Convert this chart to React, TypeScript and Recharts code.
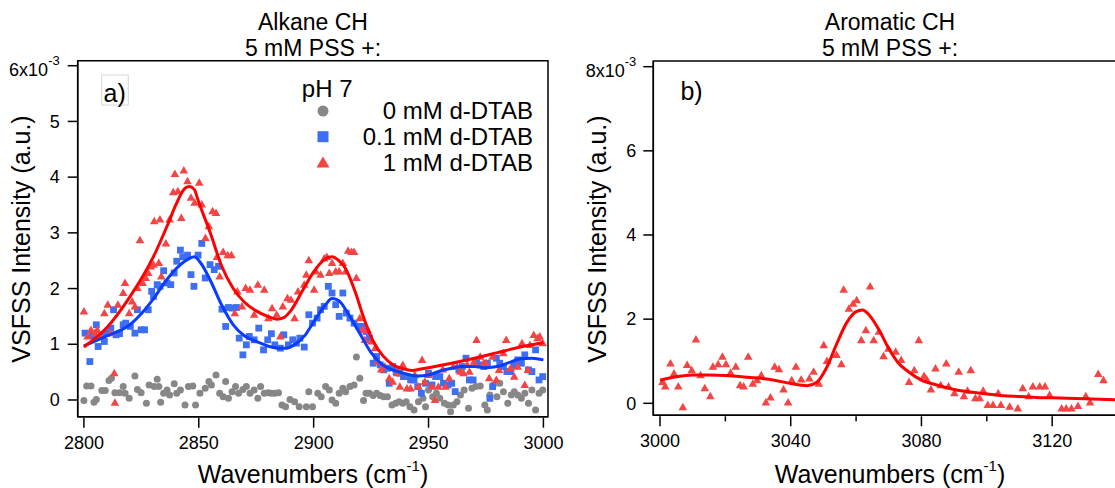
import React from 'react';
import { ComposedChart, Scatter, Line, XAxis, YAxis, ReferenceArea } from 'recharts';

const FONT = '"Liberation Sans", Arial, Helvetica, sans-serif';

// ---------- Panel a) Alkane CH (intensity in units of 1e-3) ----------
const dtab0: [number, number][] = [
  [2800,-0.01],[2801.2,0.25],[2803.1,0.25],[2804.4,-0.04],[2805.4,0.01],[2807.8,0.17],[2809.3,0.17],[2810.9,0.35],[2812,0.39],[2813.5,0.13],
  [2815.5,0.13],[2817.1,0.24],[2817.9,0.12],[2819.7,0.03],[2822.2,0.43],[2823.3,0.19],[2824.9,0.13],[2827.2,-0.06],[2828.4,0.27],[2830.6,0.24],
  [2831.9,0.37],[2832.6,0.24],[2833.4,-0.04],[2834.7,0.12],[2836.2,0.18],[2837.3,0.09],[2839.3,0.29],[2840.4,0.12],[2842,0.18],[2844,-0.09],
  [2845.5,0.24],[2847.4,0.25],[2848.6,-0.09],[2850.5,0.12],[2852.8,0.21],[2854.4,0.33],[2855.5,0.27],[2857.5,0.45],[2859.1,0.12],[2860.6,0.06],
  [2861.7,0.33],[2862.9,0.03],[2864.5,0.15],[2866,0.24],[2867.3,0.12],[2869.2,0.19],[2870.7,0.24],[2872.3,0.12],[2874.1,0.18],[2875.7,0.03],
  [2876.9,0.24],[2878.5,0.12],[2880.3,0.13],[2881.6,0.12],[2883.1,0.12],[2884.7,0.13],[2886.2,-0.09],[2887.8,-0.12],[2889.7,0.01],[2891.7,-0.03],
  [2893.7,-0.12],[2896.8,-0.12],[2897.9,0.15],[2899.5,-0.12],[2901.8,0.12],[2903.3,0.06],[2905.2,0.24],[2906.8,0.18],[2908,0],[2909.6,-0.06],
  [2911.1,0.12],[2912.7,0.21],[2913.9,0.15],[2915.8,0.24],[2917.6,0.27],[2918.6,0.77],[2920.1,0.39],[2921.7,-0.01],[2922.8,0.12],[2924.3,0.12],
  [2925.9,0.08],[2927.4,0.12],[2929,0.08],[2930.5,0.06],[2932.1,0.06],[2934.1,-0.09],[2935.7,-0.06],[2937.2,-0.03],[2938.8,-0.06],[2940.3,-0.03],
  [2941.9,-0.12],[2943.7,-0.18],[2945.6,-0.03],[2947.6,0.03],[2948.7,-0.12],[2950,0.18],[2951.8,0.06],[2953.4,0.12],[2954.9,0.03],[2956.9,-0.06],
  [2958.5,-0.09],[2959.6,-0.21],[2960.8,-0.09],[2962.4,-0.03],[2963.9,0.09],[2965.5,0.18],[2967.4,-0.15],[2968.9,0.21],[2970.5,0.24],[2972.5,0.25],
  [2974.5,-0.09],[2975.6,-0.18],[2976.7,0.09],[2978.2,0.27],[2979.8,0.06],[2981,0.3],[2982.6,0.15],[2984.5,-0.06],[2986,0.09],[2987.3,0.15],
  [2988.8,0.09],[2990.4,0.03],[2991.9,0.12],[2993.5,-0.06],[2995,0.18],[2996.6,-0.18],[2998.1,0.12],[2999.7,0.18],
];

const dtab01: [number, number][] = [
  [2800.5,1.2],[2802.6,0.69],[2803.6,1.15],[2805.4,1.35],[2806.2,0.96],[2807.8,1.14],[2808.9,1.05],[2810.1,1.2],[2811.7,1.29],[2812.9,1.62],
  [2814,1.17],[2815.5,1.19],[2817.1,1.35],[2818.2,1.38],[2820.2,1.32],[2822.2,1.2],[2823.3,1.62],[2824.9,1.26],[2826.4,1.26],[2828,1.62],
  [2829.5,1.95],[2830.3,1.86],[2831.9,2.07],[2833.1,2.04],[2834.7,2.32],[2836.2,2.1],[2837.8,2.07],[2839.3,2.28],[2840.4,2.49],[2842,2.69],
  [2843,2.57],[2845.1,2.6],[2846.6,2.25],[2847.9,2.04],[2849.7,2.6],[2851.3,2.81],[2852.8,2.19],[2854.9,2.43],[2856.7,2.34],[2858.6,2.4],
  [2860.1,1.63],[2861.7,1.32],[2862.9,1.66],[2864.5,1.65],[2866.4,1.66],[2867.6,1.11],[2869.2,0.81],[2870.7,0.99],[2872,1.14],[2874.1,1.08],
  [2876.1,1.29],[2878.2,0.9],[2880,1.08],[2881.6,1.19],[2883.1,0.99],[2885.5,0.93],[2887,1.17],[2889,0.99],[2890.9,1.08],[2892.5,1.02],
  [2894,1.11],[2895.9,0.95],[2897.9,1.53],[2899.5,1.38],[2901.5,1.47],[2903,1.62],[2904.6,1.68],[2906.4,2.04],[2908,1.92],[2909.6,1.71],
  [2911.1,1.5],[2912.7,1.92],[2914.2,1.56],[2915.8,1.47],[2917.6,1.38],[2919.7,1.32],[2921.2,1.32],[2922.8,1.23],[2924.3,1.11],[2925.9,0.66],
  [2927.4,0.78],[2929,0.63],[2930.5,0.54],[2932.1,0.57],[2932.9,0.3],[2934.4,0.6],[2935.9,0.51],[2937.5,0.48],[2939.1,0.42],[2940.6,0.42],
  [2942.2,0.36],[2943.7,0.36],[2945.3,0.24],[2946.9,0.12],[2948.7,0.3],[2950,0.48],[2951.5,0.27],[2953.1,0.42],[2954.9,0.42],[2956.5,0.3],
  [2958.5,0.27],[2960.1,0.3],[2961.6,0.15],[2963.2,0.54],[2964.7,0.6],[2966.3,0.75],[2967.8,0.36],[2969.4,0.36],[2970.9,0.69],[2972.5,0.63],
  [2974,0.6],[2975.6,0.66],[2976.7,0.03],[2977.9,0.24],[2979.5,0.75],[2981,0.66],[2982.6,0.6],[2984.1,0.51],[2985.7,0.51],[2987.3,0.63],
  [2988.8,0.72],[2990.4,0.66],[2991.9,0.81],[2993.5,0.54],[2995,0.51],[2996.6,0.9],[2998.1,0.36],[2999.7,0.42],
];

const dtab1: [number, number][] = [
  [2800,1.59],[2801.6,1.14],[2803.1,1.26],[2804.7,1.2],[2805.8,1.26],[2807.3,1.14],[2808.9,1.56],[2810.4,1.71],[2811.7,1.2],[2813.2,0.48],
  [2813.5,-0.05],[2814.8,1.71],[2817.1,1.92],[2817.9,2.1],[2819.7,1.56],[2821,1.77],[2822.2,1.68],[2823.3,2.01],[2824.4,2.87],[2825.6,2.1],
  [2826.9,2.19],[2828,2.28],[2829.1,2.4],[2830.3,2.43],[2830.6,3.21],[2832.6,2.46],[2833.1,3.24],[2833.7,2.22],[2835.7,2.81],[2837.3,3.24],
  [2838.9,3.73],[2839.6,4.06],[2840.9,3.75],[2842.4,3.27],[2843.5,4.12],[2845.1,3.93],[2846.6,3.63],[2848.2,3.54],[2850.2,3.9],[2851.3,3.51],
  [2852.9,2.91],[2854.4,3.12],[2856,3.39],[2857.5,3.36],[2857.9,2.57],[2859.1,2.22],[2860.6,2.66],[2862.6,2.6],[2864.2,2.6],[2865.7,1.56],
  [2866.8,1.95],[2868.8,1.68],[2870.4,2.01],[2872.3,1.98],[2874.1,1.53],[2875.7,2.07],[2878.5,1.98],[2880.3,1.47],[2881.9,1.65],[2883.9,1.53],
  [2885.5,1.14],[2886.6,1.68],[2888.6,1.83],[2890.1,1.8],[2891.7,1.47],[2893.2,1.95],[2895.9,2.07],[2896.8,2.25],[2897.9,2.51],[2900.2,1.98],
  [2901,2.31],[2903,2.25],[2904.6,2.54],[2905.7,2.57],[2906.8,2.28],[2908,2.46],[2909.6,2.31],[2911.1,2.31],[2912.7,2.46],[2913.9,2.31],
  [2915,2.68],[2916.5,2.66],[2917.6,2.66],[2918.6,2.19],[2920.1,1.47],[2921.2,1.26],[2922.3,1.08],[2923.5,1.26],[2925.1,1.05],[2926.7,0.93],
  [2927.9,0.69],[2929.4,0.55],[2931,0.6],[2932.9,0.39],[2934.4,0.33],[2936.3,0.48],[2937.5,0.24],[2938.8,0.63],[2940.6,0.21],[2942.2,0.21],
  [2944,0.45],[2945.6,0.24],[2947.2,0.72],[2948.4,0.33],[2950,0.45],[2951.5,0.24],[2952.8,0],[2954.3,0.24],[2956.2,0.55],[2957.4,0.24],
  [2959,0.39],[2960.8,0.6],[2962.4,0.6],[2963.9,0.51],[2965.2,0.48],[2966.8,0.63],[2967.8,0.51],[2969.8,0.69],[2970.9,1.08],[2972.5,0.78],
  [2974,0.66],[2975.1,0.66],[2976.4,0.39],[2977.9,0.78],[2979.5,0.36],[2980.7,0.54],[2982.6,0.84],[2983.8,1.08],[2985.7,0.57],[2987.3,0.42],
  [2988.8,0.6],[2990.7,1.02],[2991.9,0.27],[2993.2,0.54],[2994.2,0.99],[2995.8,1.17],[2997.4,1.11],[2998.4,1.14],[2999.7,1.02],
];

const fit01: [number, number][] = [
  [2800,0.97],[2810,1.15],[2820,1.35],[2830,1.8],[2835,2.1],[2840,2.35],[2845,2.52],[2848,2.57],[2851,2.45],[2855,2.15],
  [2860,1.7],[2865,1.35],[2870,1.15],[2875,1.05],[2880,0.97],[2885,0.93],[2888,0.93],[2892,1.0],[2896,1.15],[2900,1.4],
  [2905,1.7],[2908,1.82],[2911,1.78],[2915,1.55],[2920,1.2],[2925,0.85],[2930,0.63],[2935,0.53],[2940,0.47],[2945,0.43],
  [2950,0.45],[2955,0.52],[2960,0.57],[2965,0.6],[2970,0.6],[2975,0.58],[2980,0.6],[2985,0.67],[2990,0.74],[2995,0.75],[3000,0.72],
];

const fit1: [number, number][] = [
  [2800,0.95],[2810,1.3],[2820,1.85],[2830,2.55],[2837,3.2],[2840,3.5],[2844,3.8],[2846,3.83],[2848,3.78],[2850,3.55],
  [2855,3.0],[2860,2.4],[2865,2.0],[2870,1.75],[2875,1.6],[2880,1.5],[2884,1.45],[2887,1.48],[2890,1.6],[2895,1.95],
  [2900,2.3],[2905,2.53],[2908,2.57],[2911,2.5],[2914,2.35],[2918,1.95],[2922,1.45],[2926,1.05],[2930,0.8],[2935,0.62],
  [2940,0.55],[2943,0.53],[2946,0.55],[2950,0.58],[2960,0.66],[2970,0.75],[2980,0.85],[2990,0.95],[2995,0.99],[3000,1.03],
];

// ---------- Panel b) Aromatic CH ----------
const arom1: [number, number][] = [
  [3000.8,0.51],[3001.6,0.4],[3003.2,0.95],[3004.3,0.71],[3005.6,0.4],[3007,-0.09],[3008.3,0.91],[3009.7,0.79],[3011,1.52],[3012.4,0.67],
  [3013.7,0.36],[3015.4,0.17],[3016.2,0.87],[3017.8,0.93],[3019.1,1.11],[3020.2,0.93],[3021.6,0.73],[3023.2,0.87],[3024.5,0.43],[3025.6,0.4],
  [3027,1.11],[3028.4,0.47],[3029.7,0.55],[3031,0.67],[3032.4,0.02],[3033.8,0.14],[3035.1,0.87],[3036.4,0.81],[3037.8,0.33],[3039.2,0.02],
  [3040.3,0.55],[3041.6,0.87],[3043.2,0.57],[3045.7,0.59],[3047,0.75],[3048.6,0.47],[3050.1,1.38],[3051.1,1.01],[3054,1.15],[3055.5,0.93],
  [3056.2,2.7],[3057.8,2.25],[3059.1,2.37],[3060.2,2.45],[3061.6,1.5],[3063,1.74],[3064.3,2.78],[3065.4,1.5],[3067,1.7],[3068.4,1.12],
  [3069.9,1.3],[3072.1,1.23],[3073.8,1.03],[3076.2,0.51],[3077.8,0.79],[3079.2,1.5],[3080.8,0.65],[3081.6,0.57],[3082.9,0.33],[3084.3,0.83],
  [3085.9,0.43],[3087.6,0.95],[3088.3,0.4],[3090.1,0.24],[3091.4,0.75],[3093,0.17],[3094.1,0.3],[3095.1,0.79],[3096.5,0.12],[3097.8,0.12],
  [3098.9,0.3],[3100.3,-0.04],[3101.9,-0.04],[3103.5,0.24],[3104.3,-0.04],[3107,-0.08],[3109.5,-0.12],[3111,0.36],[3112.8,0.17],[3114.1,0.4],
  [3116.2,0.4],[3117.8,0.4],[3119.2,0.2],[3122.9,-0.12],[3124.3,-0.12],[3125.9,-0.12],[3127.9,-0.06],[3130.3,0.17],[3131.6,0.02],[3134.1,0.7],
  [3135.7,0.55],
];

const aromFit: [number, number][] = [
  [3000,0.55],[3005,0.63],[3010,0.67],[3015,0.67],[3020,0.66],[3025,0.63],[3030,0.6],[3035,0.55],[3040,0.47],[3045,0.42],
  [3048,0.5],[3051,0.85],[3054,1.4],[3057,1.9],[3060,2.18],[3062,2.22],[3064,2.1],[3067,1.75],[3070,1.3],[3073,0.95],
  [3076,0.75],[3080,0.55],[3085,0.43],[3090,0.33],[3095,0.27],[3100,0.22],[3105,0.18],[3110,0.16],[3115,0.14],[3120,0.13],
  [3130,0.11],[3140,0.08],
];

// ---------- Axis ticks & labels ----------
const xTicksA = [2800, 2850, 2900, 2950, 3000];
const xMajorA = [2800, 2850, 2900, 2950, 3000];
const yTicksA = [0, 1, 2, 3, 4, 5, 6];
const xTicksB = [3000, 3020, 3040, 3060, 3080, 3100, 3120, 3140];
const xMajorB = [3000, 3040, 3080, 3120];
const yTicksB = [0, 2, 4, 6, 8];
const xDomainA: [number, number] = [2797.3, 3002];
const yDomainA: [number, number] = [-0.3, 6.09];
const xDomainB: [number, number] = [2997.95, 3142.9];
const yDomainB: [number, number] = [-0.285, 8.135];

const titleA = ['Alkane CH', '5 mM PSS +:'];
const titleB = ['Aromatic CH', '5 mM PSS +:'];
const legendTitle = 'pH 7';
const legendLabels = ['0 mM d-DTAB', '0.1 mM d-DTAB', '1 mM d-DTAB'];
const xLabel = 'Wavenumbers (cm';
const yLabel = 'VSFSS Intensity (a.u.)';

const GRAY = '#878787';
const BLUE = '#3e6ff2';
const RED = '#f44545';
const BLUE_LINE = '#0a3cff';
const RED_LINE = '#ff0000';

const toPts = (arr: [number, number][]) => arr.map(([x, y]) => ({ x, y }));

const Circle = (p: any) => <circle cx={p.cx} cy={p.cy} r={3.5} fill={GRAY} />;
const Square = (p: any) => <rect x={p.cx - 3.4} y={p.cy - 3.4} width={6.8} height={6.8} fill={BLUE} />;
const Tri = (p: any) => (
  <polygon points={`${p.cx},${p.cy - 4.4} ${p.cx - 4.3},${p.cy + 3.1} ${p.cx + 4.3},${p.cy + 3.1}`} fill={RED} />
);

const makeYTick = (topVal: number) => (props: any) => {
  const { x, y, payload } = props;
  if (payload.value === topVal) {
    return (
      <text x={x} y={y + 10.5} textAnchor="end" fontFamily={FONT} fontSize={18} fill="#000">
        {`${topVal}x10`}
        <tspan dy={-11} fontSize={13}>-3</tspan>
      </text>
    );
  }
  return (
    <text x={x} y={y + 6.2} textAnchor="end" fontFamily={FONT} fontSize={18} fill="#000">
      {payload.value}
    </text>
  );
};

const makeXTick = (majors: number[]) => (props: any) => {
  const { x, y, payload } = props;
  const axisY = y - 18;
  const major = majors.includes(payload.value);
  return (
    <g>
      <line x1={x} x2={x} y1={axisY + 1} y2={axisY + (major ? 11 : 6)} stroke="#000" strokeWidth={1.5} />
      {major && (
        <text x={x} y={axisY + 32} textAnchor="middle" fontFamily={FONT} fontSize={18} fill="#000">
          {payload.value}
        </text>
      )}
    </g>
  );
};

const axisLine = { stroke: '#000', strokeWidth: 1.5 };
const tickLine = { stroke: '#000', strokeWidth: 1.5 };

export default function App() {
  return (
    <div style={{ position: 'absolute', left: 0, top: 0, width: 1115, height: 488, overflow: 'hidden', background: '#fff' }}>
      <div style={{ position: 'absolute', left: 0, top: 0 }}>
        <ComposedChart width={600} height={488} margin={{ top: 60.7, right: 52, bottom: 31.3, left: 0 }}>
          <XAxis dataKey="x" type="number" domain={xDomainA} allowDataOverflow ticks={xTicksA} interval={0}
            tickSize={10} tickMargin={8} tickLine={false} axisLine={axisLine} height={40} tick={makeXTick(xMajorA)} />
          <YAxis dataKey="y" type="number" domain={yDomainA} allowDataOverflow ticks={yTicksA} interval={0}
            tickSize={10} tickMargin={8} tickLine={tickLine} axisLine={axisLine} width={77.7} tick={makeYTick(6)} />
          <ReferenceArea x1={xDomainA[0]} x2={xDomainA[1]} y1={yDomainA[0]} y2={yDomainA[1]} fill="none" fillOpacity={0} stroke="#000" strokeWidth={1.5} ifOverflow="visible" />
          <Scatter data={toPts(dtab0)} shape={Circle} isAnimationActive={false} />
          <Scatter data={toPts(dtab01)} shape={Square} isAnimationActive={false} />
          <Scatter data={toPts(dtab1)} shape={Tri} isAnimationActive={false} />
          <Line data={toPts(fit01)} dataKey="y" type="monotone" dot={false} stroke={BLUE_LINE} strokeWidth={3} isAnimationActive={false} zIndex={700} />
          <Line data={toPts(fit1)} dataKey="y" type="monotone" dot={false} stroke={RED_LINE} strokeWidth={3} isAnimationActive={false} zIndex={700} />
        </ComposedChart>
      </div>
      <div style={{ position: 'absolute', left: 560, top: 0 }}>
        <ComposedChart width={580} height={488} margin={{ top: 61, right: 13, bottom: 32.7, left: 0 }}>
          <XAxis dataKey="x" type="number" domain={xDomainB} allowDataOverflow ticks={xTicksB} interval={0}
            tickSize={10} tickMargin={8} tickLine={false} axisLine={axisLine} height={40} tick={makeXTick(xMajorB)} />
          <YAxis dataKey="y" type="number" domain={yDomainB} allowDataOverflow ticks={yTicksB} interval={0}
            tickSize={10} tickMargin={7} tickLine={tickLine} axisLine={axisLine} width={93.3} tick={makeYTick(8)} />
          <ReferenceArea x1={xDomainB[0]} x2={xDomainB[1]} y1={yDomainB[0]} y2={yDomainB[1]} fill="none" fillOpacity={0} stroke="#000" strokeWidth={1.5} ifOverflow="visible" />
          <Scatter data={toPts(arom1)} shape={Tri} isAnimationActive={false} />
          <Line data={toPts(aromFit)} dataKey="y" type="monotone" dot={false} stroke={RED_LINE} strokeWidth={3} isAnimationActive={false} zIndex={700} />
        </ComposedChart>
      </div>
      <svg width={1115} height={488} style={{ position: 'absolute', left: 0, top: 0, pointerEvents: 'none' }} fontFamily={FONT} fill="#000">
        {/* titles */}
        <text x={313} y={29.5} textAnchor="middle" fontSize={23}>{titleA[0]}</text>
        <text x={313} y={55.5} textAnchor="middle" fontSize={23}>{titleA[1]}</text>
        <text x={890} y={29.5} textAnchor="middle" fontSize={23}>{titleB[0]}</text>
        <text x={890} y={55.5} textAnchor="middle" fontSize={23}>{titleB[1]}</text>
        {/* x labels */}
        {[313, 890].map((cx) => (
          <text key={cx} x={cx} y={483} textAnchor="middle" fontSize={25}>
            {xLabel}
            <tspan dy={-12} fontSize={15}>-1</tspan>
            <tspan dy={12}>)</tspan>
          </text>
        ))}
        {/* y labels */}
        <text x={30.4} y={239} textAnchor="middle" fontSize={25} transform="rotate(-90 30.4 239)">{yLabel}</text>
        <text x={606} y={239} textAnchor="middle" fontSize={25} transform="rotate(-90 606 239)">{yLabel}</text>
        {/* panel letters */}
        <rect x={101.7} y={75} width={26.6} height={30} fill="none" stroke="#d8d8d8" strokeWidth={1} />
        <text x={103.5} y={101.5} fontSize={25}>a)</text>
        <text x={680.4} y={100} fontSize={25}>b)</text>
        {/* legend */}
        <text x={301.8} y={96.7} fontSize={24}>{legendTitle}</text>
        <circle cx={323} cy={111} r={5.5} fill={GRAY} />
        <rect x={317.5} y={131.2} width={11} height={11} fill={BLUE} />
        <polygon points="323,156.5 316.5,167.5 329.5,167.5" fill={RED} />
        <text x={533} y={119.3} textAnchor="end" fontSize={24}>{legendLabels[0]}</text>
        <text x={533} y={145.2} textAnchor="end" fontSize={24}>{legendLabels[1]}</text>
        <text x={533} y={170.5} textAnchor="end" fontSize={24}>{legendLabels[2]}</text>
      </svg>
    </div>
  );
}
